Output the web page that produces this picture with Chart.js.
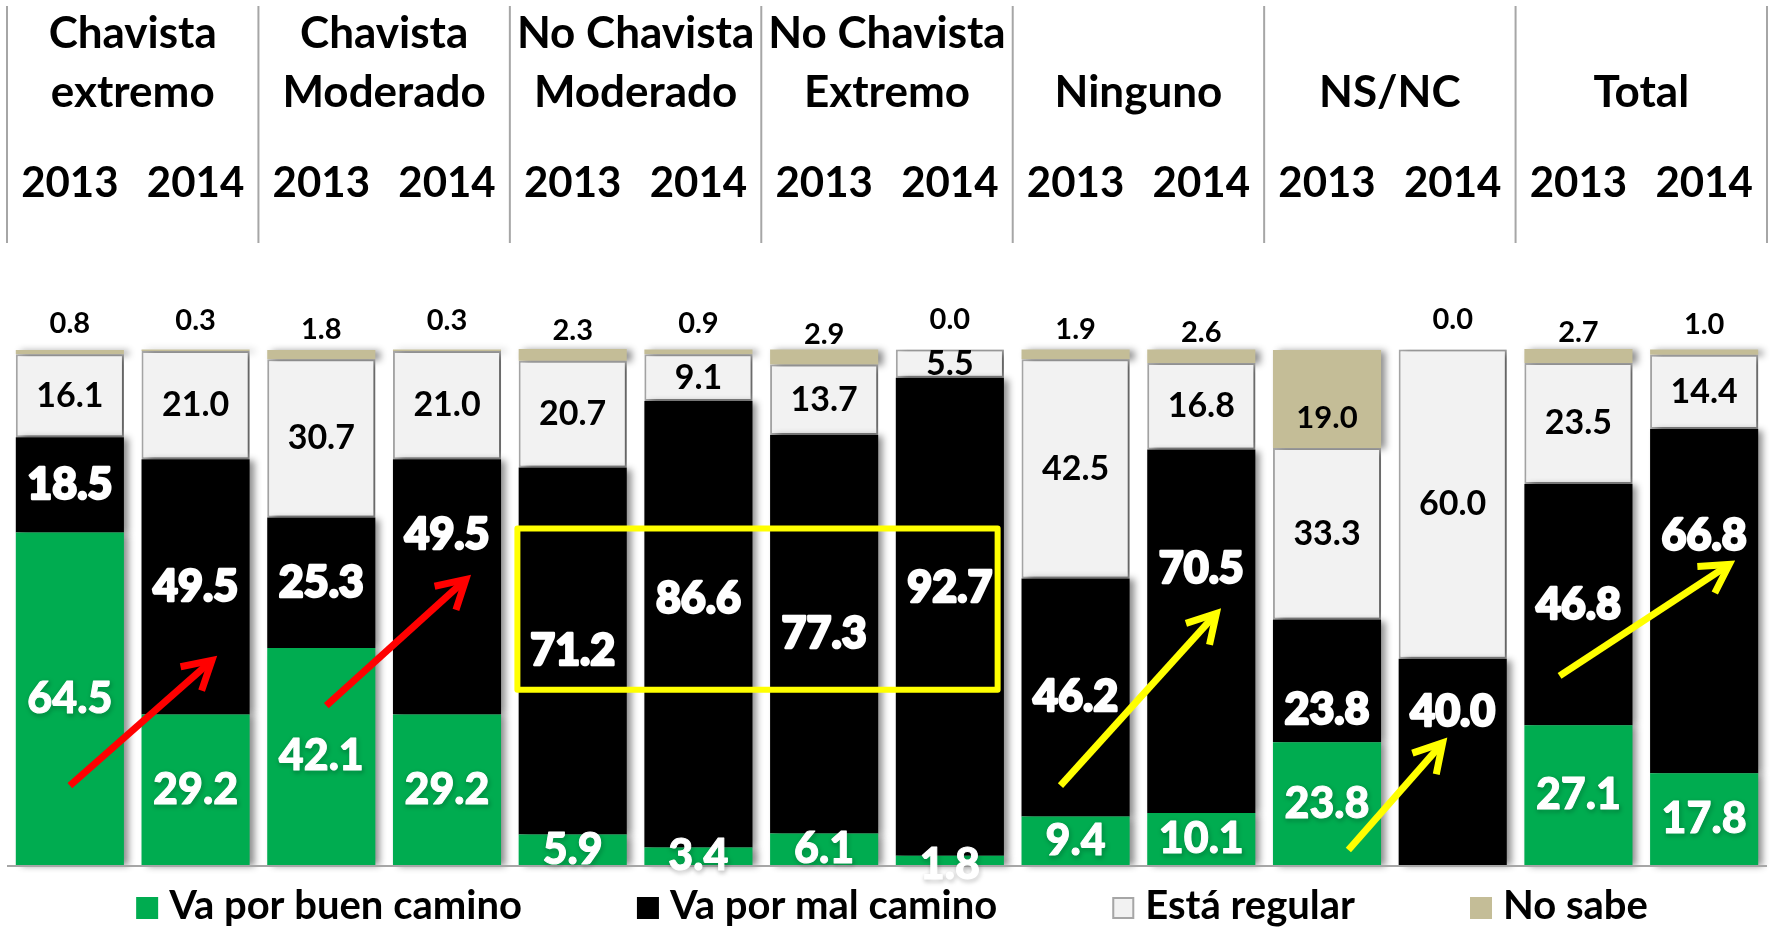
<!DOCTYPE html>
<html><head><meta charset="utf-8">
<script src="https://cdn.jsdelivr.net/npm/chart.js@4.4.1/dist/chart.umd.min.js"></script>
<style>html,body{margin:0;padding:0;background:#fff;}#wrap{position:relative;width:1770px;height:928px;}</style>
</head><body><div id="wrap"><canvas id="c"></canvas></div>
<script>
// ---- data ----
const groups = [['Chavista','extremo'],['Chavista','Moderado'],['No Chavista','Moderado'],['No Chavista','Extremo'],['','Ninguno'],['','NS/NC'],['','Total']];
const years = ['2013','2014'];
const categories = [];
groups.forEach(g => years.forEach(y => categories.push((g[0] ? g[0] + ' ' : '') + g[1] + ' ' + y)));
const seriesNames = ['Va por buen camino','Va por mal camino','Está regular','No sabe'];
const buenCamino = [64.5,29.2,42.1,29.2,5.9,3.4,6.1,1.8,9.4,10.1,23.8,null,27.1,17.8];
const malCamino  = [18.5,49.5,25.3,49.5,71.2,86.6,77.3,92.7,46.2,70.5,23.8,40.0,46.8,66.8];
const regular    = [16.1,21.0,30.7,21.0,20.7,9.1,13.7,5.5,42.5,16.8,33.3,60.0,23.5,14.4];
const noSabe     = [0.8,0.3,1.8,0.3,2.3,0.9,2.9,0.0,1.9,2.6,19.0,0.0,2.7,1.0];

// ---- styling / annotations (data-space coordinates) ----
const colors = ['#00AC50','#000000','#F2F2F2','#C4BD97'];
const labelNudge = {'1:3':-52,'1:5':-25,'1:7':-29,'1:9':-62,'1:10':29,'1:11':-50,'1:13':-65,'0:7':5,'3:10':19};
const arrows = [
  {from:[0.0,15.4], to:[1.13,39.7], color:'#FF0000'},
  {from:[2.04,30.9], to:[3.15,55.4], color:'#FF0000'},
  {from:[7.88,15.4], to:[9.12,48.8], color:'#FFFF00'},
  {from:[10.17,2.9], to:[10.92,23.7], color:'#FFFF00'},
  {from:[11.85,36.7], to:[13.2,58.3], color:'#FFFF00'}
];
const highlightBox = {x0:3.56, x1:7.38, y0:34.0, y1:65.3, color:'#FFFF00'};
const FONT = 'Lato, "Open Sans", sans-serif';

function drawArrow(ctx, x1, y1, x2, y2, color, w) {
  const a = Math.atan2(y2 - y1, x2 - x1);
  ctx.save();
  ctx.strokeStyle = color; ctx.lineWidth = w; ctx.lineCap = 'butt'; ctx.lineJoin = 'miter';
  ctx.beginPath(); ctx.moveTo(x1, y1); ctx.lineTo(x2 - 3 * Math.cos(a), y2 - 3 * Math.sin(a)); ctx.stroke();
  const L = 32, sp = 0.52;
  ctx.beginPath();
  ctx.moveTo(x2 - L * Math.cos(a - sp), y2 - L * Math.sin(a - sp));
  ctx.lineTo(x2, y2);
  ctx.lineTo(x2 - L * Math.cos(a + sp), y2 - L * Math.sin(a + sp));
  ctx.stroke();
  ctx.restore();
}

const decor = {
  id: 'decor',
  beforeDatasetsDraw(chart) {
    const ctx = chart.ctx;
    ctx.save();
    ctx.shadowColor = 'rgba(0,0,0,0.45)';
    ctx.shadowBlur = 7; ctx.shadowOffsetX = 5; ctx.shadowOffsetY = 1;
  },
  afterDatasetsDraw(chart) {
    const ctx = chart.ctx;
    ctx.restore();
    const xs = chart.scales.x, ys = chart.scales.y, area = chart.chartArea;
    // baseline
    ctx.save();
    ctx.strokeStyle = '#A6A6A6'; ctx.lineWidth = 2;
    ctx.beginPath(); ctx.moveTo(area.left, area.bottom + 1); ctx.lineTo(area.right, area.bottom + 1); ctx.stroke();
    ctx.restore();
    // data labels
    chart.data.datasets.forEach((ds, d) => {
      const meta = chart.getDatasetMeta(d);
      meta.data.forEach((el, i) => {
        const v = ds.data[i];
        if (v === null || v === undefined) return;
        const txt = v.toFixed(1);
        let x = el.x, y = (el.y + el.base) / 2;
        ctx.save();
        ctx.textAlign = 'center'; ctx.textBaseline = 'middle';
        if (d === 3) {
          if (v < 5) { y = el.base - 30; }
          ctx.font = 'bold 29px ' + FONT; ctx.fillStyle = '#000';
          if (v >= 5) ctx.font = 'bold 31px ' + FONT;
        } else if (d === 2) {
          ctx.font = 'bold 34px ' + FONT; ctx.fillStyle = '#000';
        } else {
          ctx.font = '900 43px ' + FONT; ctx.fillStyle = '#FFFFFF';
        }
        const n = labelNudge[d + ':' + i];
        if (n) y += n;
        if (d <= 1) {
          ctx.shadowColor = 'rgba(0,0,0,0.6)'; ctx.shadowBlur = 4; ctx.shadowOffsetX = 1; ctx.shadowOffsetY = 2;
          ctx.strokeStyle = '#FFFFFF'; ctx.lineWidth = d === 1 ? 2.5 : 1; ctx.lineJoin = 'round';
          ctx.strokeText(txt, x, y);
          ctx.shadowColor = 'transparent';
        }
        ctx.fillText(txt, x, y);
        ctx.restore();
      });
    });
    // highlight box
    ctx.save();
    ctx.strokeStyle = highlightBox.color; ctx.lineWidth = 6; ctx.lineJoin = 'round';
    const bx0 = xs.getPixelForValue(highlightBox.x0), bx1 = xs.getPixelForValue(highlightBox.x1);
    const by0 = ys.getPixelForValue(highlightBox.y1), by1 = ys.getPixelForValue(highlightBox.y0);
    ctx.strokeRect(bx0, by0, bx1 - bx0, by1 - by0);
    ctx.restore();
    // arrows
    arrows.forEach(a => drawArrow(ctx, xs.getPixelForValue(a.from[0]), ys.getPixelForValue(a.from[1]),
      xs.getPixelForValue(a.to[0]), ys.getPixelForValue(a.to[1]), a.color, 7));
  },
  afterDraw(chart) {
    const ctx = chart.ctx, xs = chart.scales.x;
    const pitch = xs.getPixelForValue(1) - xs.getPixelForValue(0);
    ctx.save();
    // header separators
    ctx.strokeStyle = '#A6A6A6'; ctx.lineWidth = 2;
    for (let g = 0; g <= groups.length; g++) {
      const x = xs.getPixelForValue(2 * g) - pitch / 2;
      ctx.beginPath(); ctx.moveTo(x, 6); ctx.lineTo(x, 243); ctx.stroke();
    }
    ctx.fillStyle = '#000'; ctx.textAlign = 'center'; ctx.textBaseline = 'middle';
    groups.forEach((g, gi) => {
      const cx = (xs.getPixelForValue(2 * gi) + xs.getPixelForValue(2 * gi + 1)) / 2;
      ctx.font = 'bold 44px ' + FONT;
      if (g[0]) ctx.fillText(g[0], cx, 34);
      ctx.fillText(g[1], cx, 93);
      years.forEach((yr, k) => {
        ctx.font = 'bold 42px ' + FONT;
        ctx.fillText(yr, xs.getPixelForValue(2 * gi + k), 183);
      });
    });
    // legend
    ctx.font = 'bold 40px ' + FONT;
    const box = 22, gap = 11, spacing = 115;
    const widths = seriesNames.map(s => box + gap + ctx.measureText(s).width);
    const total = widths.reduce((a, b) => a + b, 0) + spacing * (seriesNames.length - 1);
    let x = (chart.width - total) / 2 + 7;
    const ly = 906;
    seriesNames.forEach((s, i) => {
      ctx.fillStyle = colors[i];
      ctx.fillRect(x, ly - 9, box, box);
      if (i === 2) { ctx.strokeStyle = '#A6A6A6'; ctx.lineWidth = 2; ctx.strokeRect(x + 1, ly - 8, box - 2, box - 2); }
      ctx.fillStyle = '#000'; ctx.textAlign = 'left';
      ctx.fillText(s, x + box + gap, ly);
      x += widths[i] + spacing;
    });
    ctx.restore();
  }
};

const series = [buenCamino, malCamino, regular, noSabe];
const chartData = {
  labels: categories,
  datasets: series.map((arr, i) => ({
    label: seriesNames[i], data: arr, backgroundColor: colors[i],
    borderColor: i === 2 ? '#A6A6A6' : colors[i], borderWidth: i === 2 ? 2 : 0,
    borderSkipped: false, categoryPercentage: 1, barPercentage: 0.86, clip: false
  }))
};

function start() {
  new Chart(document.getElementById('c'), {
    type: 'bar',
    data: chartData,
    options: {
      responsive: true, maintainAspectRatio: false, animation: false, devicePixelRatio: 1,
      layout: {padding: {left: 7, right: 3, top: 349.5, bottom: 63}},
      plugins: {legend: {display: false}, tooltip: {enabled: false}},
      scales: {
        x: {stacked: true, display: false},
        y: {stacked: true, display: false, min: 0, max: 100}
      }
    },
    plugins: [decor]
  });
}
if (document.fonts && document.fonts.load) {
  Promise.all([document.fonts.load('bold 40px Lato'), document.fonts.load('900 40px Lato')]).then(start, start);
} else start();
</script></body></html>
